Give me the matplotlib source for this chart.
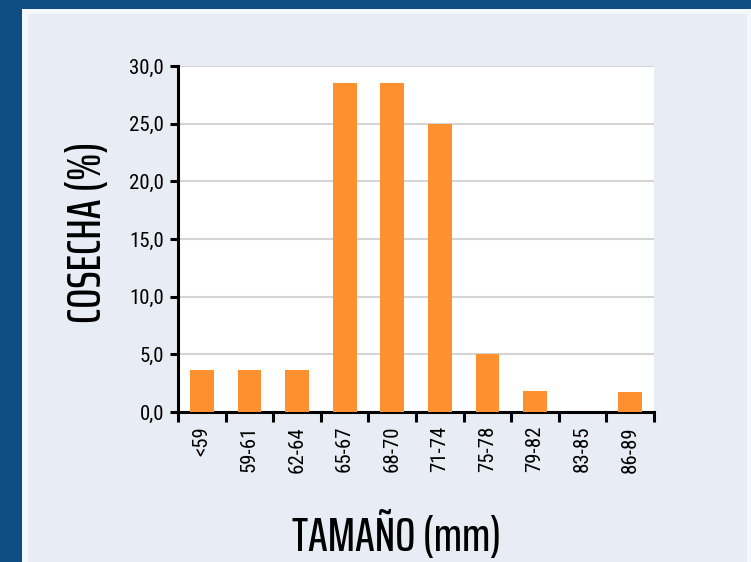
import numpy as np
import matplotlib as mpl
mpl.use('Agg')
import matplotlib.pyplot as plt
from matplotlib.patches import Rectangle
from matplotlib.ticker import FuncFormatter

categories = ['<59', '59-61', '62-64', '65-67', '68-70', '71-74', '75-78', '79-82', '83-85', '86-89']
cosecha = [3.6, 3.6, 3.6, 28.5, 28.5, 25.0, 5.0, 1.8, 0.0, 1.7]
yticks = [0, 5, 10, 15, 20, 25, 30]

plt.rcParams['font.family'] = ['Roboto Condensed', 'DejaVu Sans']
title_font = ['Saira ExtraCondensed', 'DejaVu Sans']

W, H = 751, 562
fig = plt.figure(figsize=(W/100, H/100), dpi=100)
fig.patch.set_facecolor('#104d85')

# white frame and light panel behind the chart
fig.patches.append(Rectangle((22/W, 0), 1 - 22/W, 1 - 9/H, transform=fig.transFigure,
                             facecolor='#f4f7fb', edgecolor='none', zorder=-2))
fig.patches.append(Rectangle((28/W, 0), (747-28)/W, 1 - 14/H, transform=fig.transFigure,
                             facecolor='#e8ecf4', edgecolor='none', zorder=-1))

ax = fig.add_axes([178/W, 1 - 412/H, (654-178)/W, (412-66)/H])
ax.set_facecolor('white')

x = np.arange(len(categories))
ax.bar(x, cosecha, width=0.5, color='#ff9030', zorder=3)

ax.set_xlim(-0.5, len(categories) - 0.5)
ax.set_ylim(0, 30)
ax.set_yticks(yticks)
ax.yaxis.set_major_formatter(FuncFormatter(lambda v, p: ('%.1f' % v).replace('.', ',')))
ax.grid(axis='y', color='#d4d4d4', linewidth=1.5, zorder=0)

# category labels centered, tick marks at the boundaries
ax.set_xticks(x)
ax.set_xticklabels(categories, rotation=90, fontsize=15)
ax.set_xticks(np.arange(len(categories) + 1) - 0.5, minor=True)
ax.tick_params(axis='x', which='major', length=0, pad=10)
ax.tick_params(axis='x', which='minor', length=7, width=2.2, color='black', direction='out')
ax.tick_params(axis='y', length=6, width=2.2, labelsize=15, pad=4)

for s in ['top', 'right']:
    ax.spines[s].set_visible(False)
ax.spines['left'].set_linewidth(2.2)
ax.spines['bottom'].set_linewidth(2.2)

ax.set_ylabel('COSECHA (%)', fontsize=34, weight='medium', va='center', family=title_font)
ax.yaxis.set_label_coords((88-178)/476, (412-232)/346)
ax.set_xlabel('TAMAÑO (mm)', fontsize=34, weight='medium', va='center', family=title_font)
ax.xaxis.set_label_coords((396-178)/476, (412-535)/346)

plt.savefig('out.png', dpi=100, facecolor=fig.get_facecolor())
